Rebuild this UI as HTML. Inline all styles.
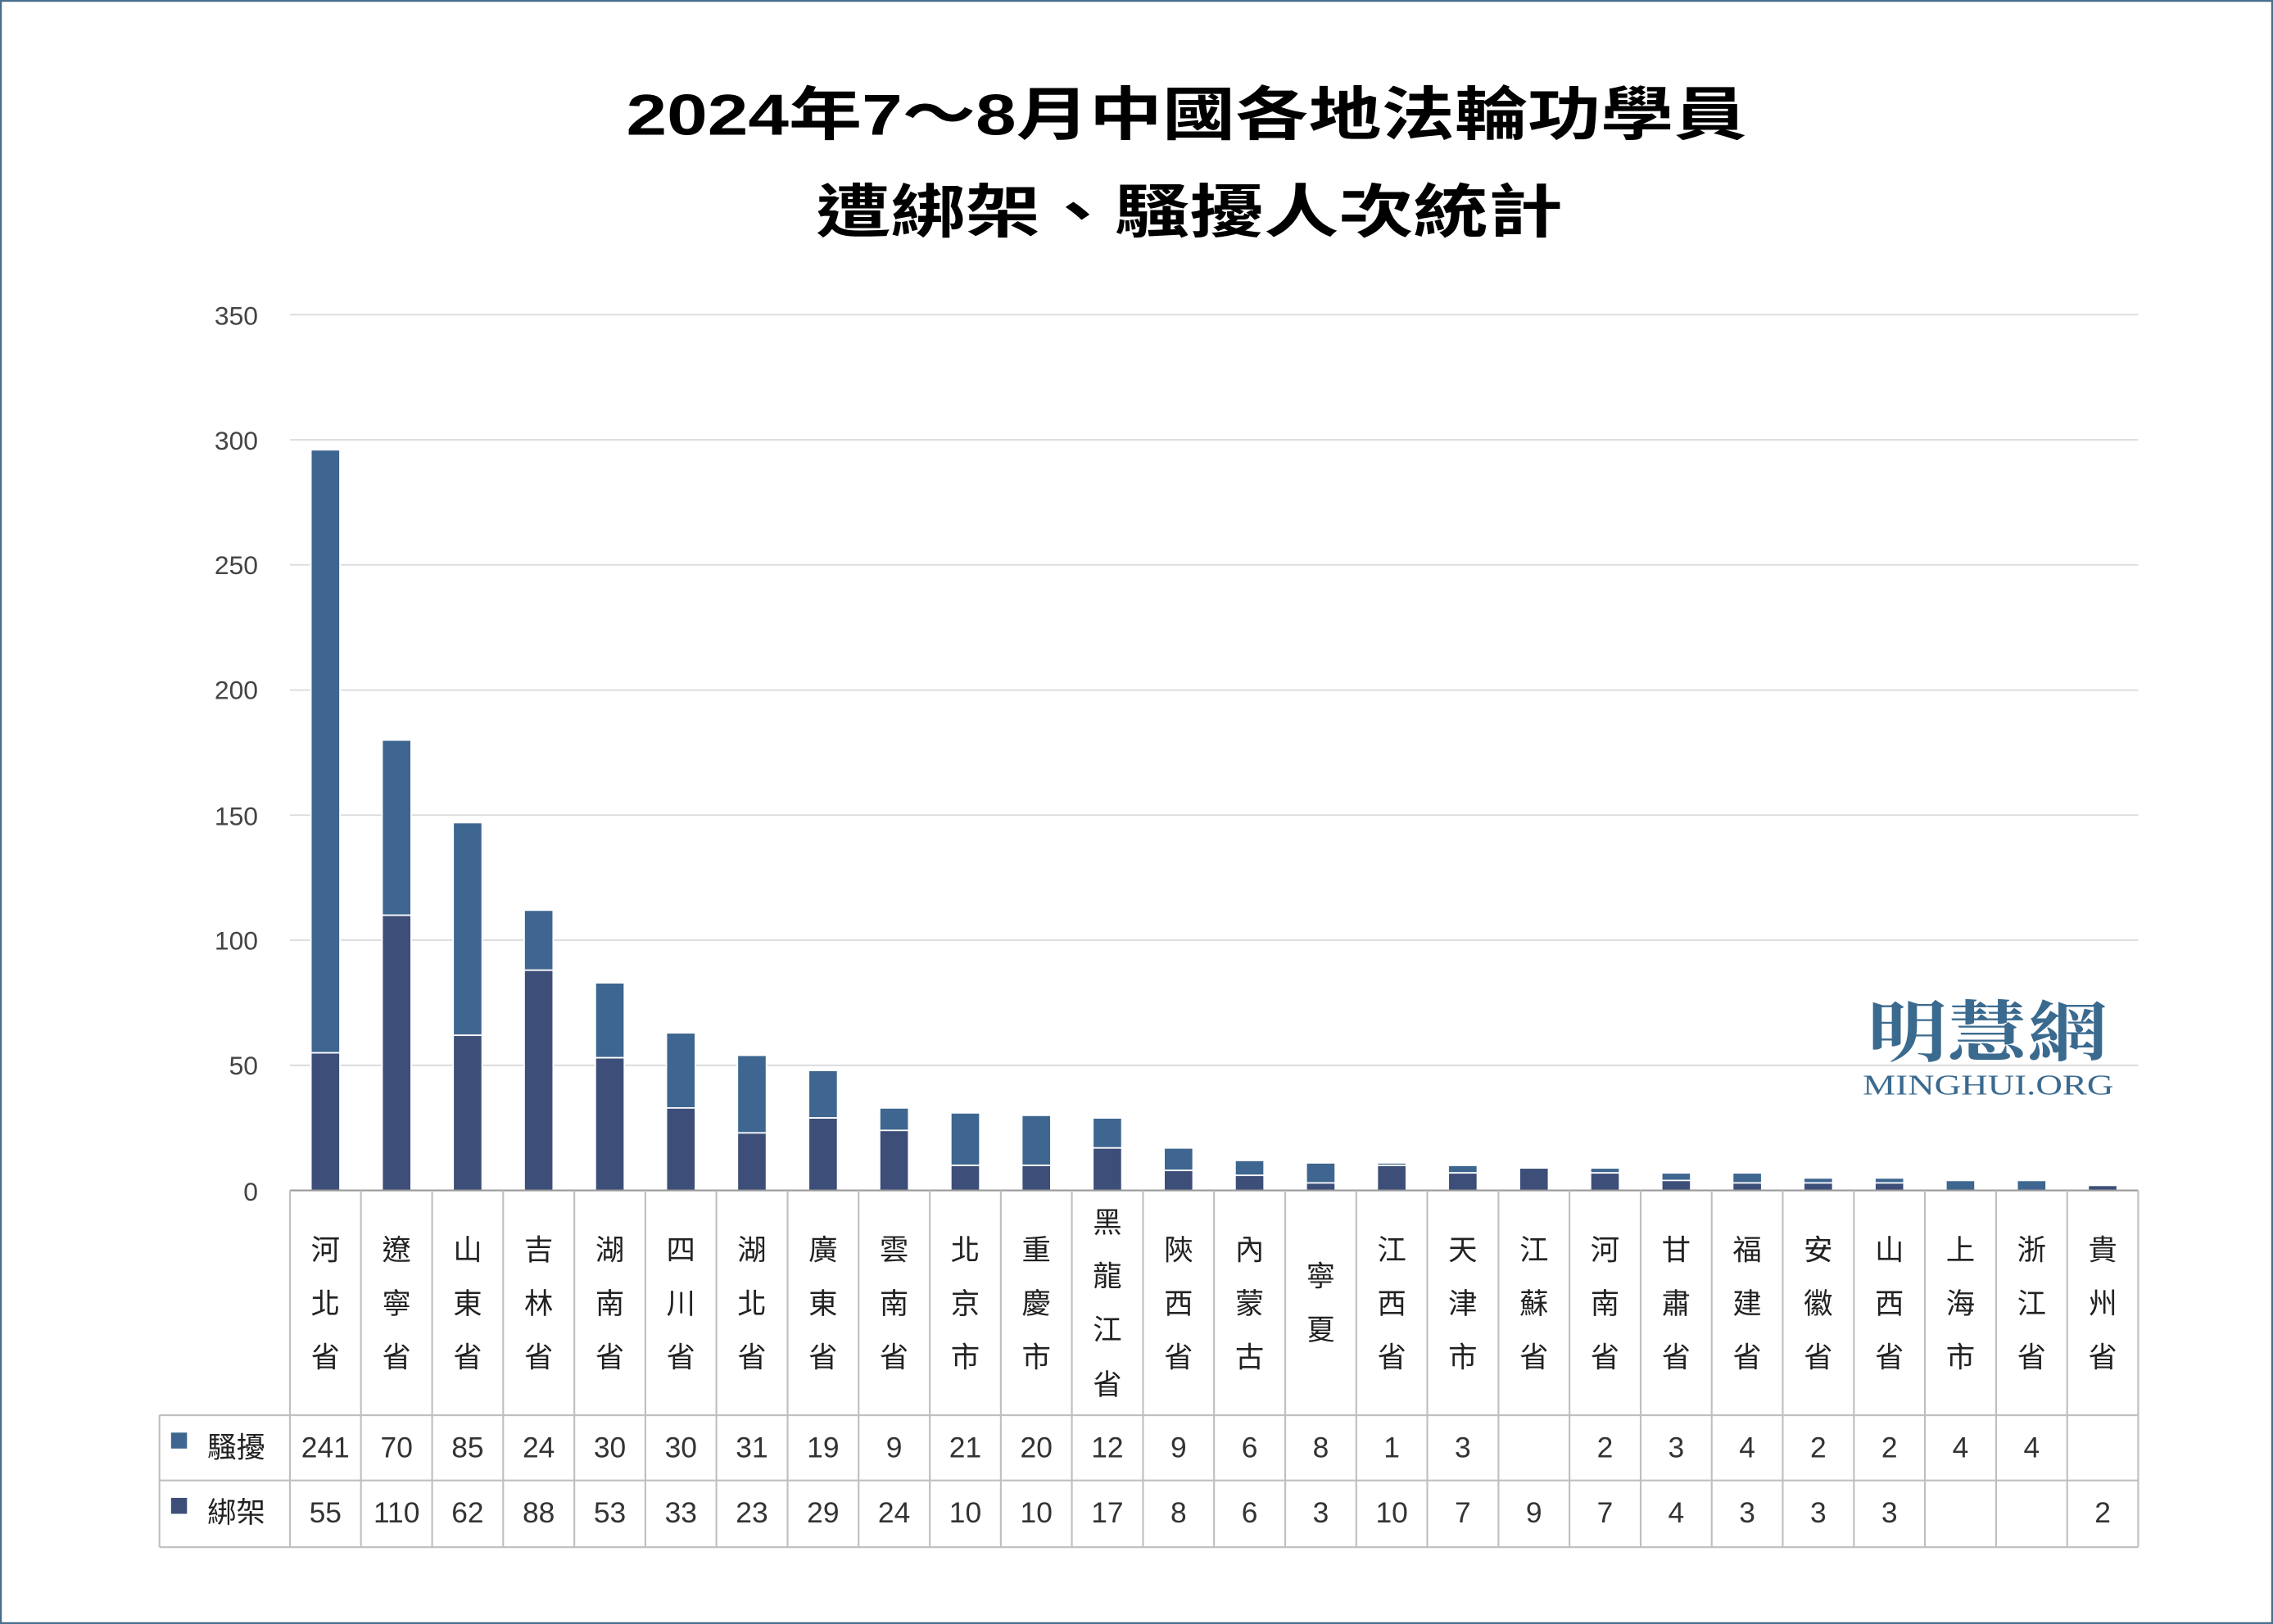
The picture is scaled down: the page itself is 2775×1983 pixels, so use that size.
<!DOCTYPE html>
<html><head><meta charset="utf-8"><style>
html,body{margin:0;padding:0;background:#fff;}
svg{display:block;}
.yl{font-family:"Liberation Sans","DejaVu Sans",sans-serif;font-size:18px;fill:#444;text-anchor:end;}
.cl{font-family:"Liberation Sans","Noto Sans CJK TC",sans-serif;font-size:20px;fill:#222;text-anchor:middle;}
.nm{font-family:"Liberation Sans","DejaVu Sans",sans-serif;font-size:20px;fill:#333;text-anchor:middle;}
.tt{font-family:"Liberation Sans","Noto Sans CJK TC",sans-serif;font-size:40px;font-weight:bold;fill:#000;}
.h{fill:#3e6690}.a{fill:#3d4f78}
</style></head><body>
<svg width="2775" height="1983" viewBox="0 0 1568 1120" preserveAspectRatio="none" xmlns="http://www.w3.org/2000/svg">
<rect x="0.5" y="0.5" width="1567" height="1119" fill="#fff" stroke="#4a6f8c" stroke-width="1.5"/>
<text class="tt" x="432" y="93" textLength="773" lengthAdjust="spacingAndGlyphs">2024年7～8月中國各地法輪功學員</text>
<text class="tt" x="563" y="160" textLength="515" lengthAdjust="spacingAndGlyphs">遭綁架、騷擾人次統計</text>
<g stroke="#d9d9d9" stroke-width="1">
<line x1="200" x2="1475" y1="217" y2="217"/><line x1="200" x2="1475" y1="303.3" y2="303.3"/>
<line x1="200" x2="1475" y1="389.6" y2="389.6"/><line x1="200" x2="1475" y1="475.9" y2="475.9"/>
<line x1="200" x2="1475" y1="562.1" y2="562.1"/><line x1="200" x2="1475" y1="648.4" y2="648.4"/>
<line x1="200" x2="1475" y1="734.7" y2="734.7"/>
</g>
<g class="yl">
<text class="yl" x="178" y="224">350</text><text class="yl" x="178" y="310">300</text>
<text class="yl" x="178" y="396">250</text><text class="yl" x="178" y="482">200</text>
<text class="yl" x="178" y="569">150</text><text class="yl" x="178" y="655">100</text>
<text class="yl" x="178" y="741">50</text><text class="yl" x="178" y="828">0</text>
</g>
<text x="1288" y="728" textLength="166" lengthAdjust="spacingAndGlyphs" style="font-family:'Noto Serif CJK SC',serif;font-size:46px;font-weight:bold;fill:#3b6a8f">明慧網</text>
<text x="1285" y="755" textLength="173" lengthAdjust="spacingAndGlyphs" style="font-family:'Liberation Serif',serif;font-size:20px;fill:#3b6a8f">MINGHUI.ORG</text>
<g stroke="#fff" stroke-width="1">
<rect class="h" x="214.5" y="310.2" width="20" height="415.9"/><rect class="a" x="214.5" y="726.1" width="20" height="94.9"/>
<rect class="h" x="263.6" y="510.4" width="20" height="120.8"/><rect class="a" x="263.6" y="631.2" width="20" height="189.8"/>
<rect class="h" x="312.6" y="567.3" width="20" height="146.7"/><rect class="a" x="312.6" y="714" width="20" height="107"/>
<rect class="h" x="361.6" y="627.7" width="20" height="41.4"/><rect class="a" x="361.6" y="669.1" width="20" height="151.9"/>
<rect class="h" x="410.7" y="677.8" width="20" height="51.7"/><rect class="a" x="410.7" y="729.5" width="20" height="91.5"/>
<rect class="h" x="459.7" y="712.3" width="20" height="51.8"/><rect class="a" x="459.7" y="764.1" width="20" height="56.9"/>
<rect class="h" x="508.7" y="727.8" width="20" height="53.5"/><rect class="a" x="508.7" y="781.3" width="20" height="39.7"/>
<rect class="h" x="557.8" y="738.2" width="20" height="32.8"/><rect class="a" x="557.8" y="771" width="20" height="50"/>
<rect class="h" x="606.8" y="764.1" width="20" height="15.5"/><rect class="a" x="606.8" y="779.6" width="20" height="41.4"/>
<rect class="h" x="655.9" y="767.5" width="20" height="36.2"/><rect class="a" x="655.9" y="803.7" width="20" height="17.3"/>
<rect class="h" x="704.9" y="769.2" width="20" height="34.5"/><rect class="a" x="704.9" y="803.7" width="20" height="17.3"/>
<rect class="h" x="753.9" y="771" width="20" height="20.7"/><rect class="a" x="753.9" y="791.7" width="20" height="29.3"/>
<rect class="h" x="803" y="791.7" width="20" height="15.5"/><rect class="a" x="803" y="807.2" width="20" height="13.8"/>
<rect class="h" x="852" y="800.3" width="20" height="10.3"/><rect class="a" x="852" y="810.6" width="20" height="10.4"/>
<rect class="h" x="901.1" y="802" width="20" height="13.8"/><rect class="a" x="901.1" y="815.8" width="20" height="5.2"/>
<rect class="h" x="950.1" y="802" width="20" height="1.7"/><rect class="a" x="950.1" y="803.7" width="20" height="17.3"/>
<rect class="h" x="999.1" y="803.7" width="20" height="5.2"/><rect class="a" x="999.1" y="808.9" width="20" height="12.1"/>
<rect class="a" x="1048.2" y="805.5" width="20" height="15.5"/>
<rect class="h" x="1097.2" y="805.5" width="20" height="3.4"/><rect class="a" x="1097.2" y="808.9" width="20" height="12.1"/>
<rect class="h" x="1146.3" y="808.9" width="20" height="5.2"/><rect class="a" x="1146.3" y="814.1" width="20" height="6.9"/>
<rect class="h" x="1195.3" y="808.9" width="20" height="6.9"/><rect class="a" x="1195.3" y="815.8" width="20" height="5.2"/>
<rect class="h" x="1244.3" y="812.4" width="20" height="3.4"/><rect class="a" x="1244.3" y="815.8" width="20" height="5.2"/>
<rect class="h" x="1293.4" y="812.4" width="20" height="3.4"/><rect class="a" x="1293.4" y="815.8" width="20" height="5.2"/>
<rect class="h" x="1342.4" y="814.1" width="20" height="6.9"/>
<rect class="h" x="1391.5" y="814.1" width="20" height="6.9"/>
<rect class="a" x="1440.5" y="817.5" width="20" height="3.5"/>
</g>
<g stroke="#bfbfbf" stroke-width="1.2">
<line x1="200" x2="1475" y1="821" y2="821" stroke="#999"/>
<line x1="110" x2="1475" y1="976" y2="976"/>
<line x1="110" x2="1475" y1="1021" y2="1021"/>
<line x1="110" x2="1475" y1="1067" y2="1067"/>
<line x1="110" x2="110" y1="976" y2="1067"/>
<line x1="200" x2="200" y1="821" y2="1067"/><line x1="249" x2="249" y1="821" y2="1067"/>
<line x1="298.1" x2="298.1" y1="821" y2="1067"/><line x1="347.1" x2="347.1" y1="821" y2="1067"/>
<line x1="396.2" x2="396.2" y1="821" y2="1067"/><line x1="445.2" x2="445.2" y1="821" y2="1067"/>
<line x1="494.2" x2="494.2" y1="821" y2="1067"/><line x1="543.3" x2="543.3" y1="821" y2="1067"/>
<line x1="592.3" x2="592.3" y1="821" y2="1067"/><line x1="641.4" x2="641.4" y1="821" y2="1067"/>
<line x1="690.4" x2="690.4" y1="821" y2="1067"/><line x1="739.4" x2="739.4" y1="821" y2="1067"/>
<line x1="788.5" x2="788.5" y1="821" y2="1067"/><line x1="837.5" x2="837.5" y1="821" y2="1067"/>
<line x1="886.6" x2="886.6" y1="821" y2="1067"/><line x1="935.6" x2="935.6" y1="821" y2="1067"/>
<line x1="984.6" x2="984.6" y1="821" y2="1067"/><line x1="1033.7" x2="1033.7" y1="821" y2="1067"/>
<line x1="1082.7" x2="1082.7" y1="821" y2="1067"/><line x1="1131.8" x2="1131.8" y1="821" y2="1067"/>
<line x1="1180.8" x2="1180.8" y1="821" y2="1067"/><line x1="1229.8" x2="1229.8" y1="821" y2="1067"/>
<line x1="1278.9" x2="1278.9" y1="821" y2="1067"/><line x1="1327.9" x2="1327.9" y1="821" y2="1067"/>
<line x1="1377" x2="1377" y1="821" y2="1067"/><line x1="1426" x2="1426" y1="821" y2="1067"/>
<line x1="1475" x2="1475" y1="821" y2="1067"/>
</g>
<g class="cl">
<text class="cl" x="224.5" y="869">河</text><text class="cl" x="224.5" y="906">北</text><text class="cl" x="224.5" y="943">省</text>
<text class="cl" x="273.6" y="869">遼</text><text class="cl" x="273.6" y="906">寧</text><text class="cl" x="273.6" y="943">省</text>
<text class="cl" x="322.6" y="869">山</text><text class="cl" x="322.6" y="906">東</text><text class="cl" x="322.6" y="943">省</text>
<text class="cl" x="371.6" y="869">吉</text><text class="cl" x="371.6" y="906">林</text><text class="cl" x="371.6" y="943">省</text>
<text class="cl" x="420.7" y="869">湖</text><text class="cl" x="420.7" y="906">南</text><text class="cl" x="420.7" y="943">省</text>
<text class="cl" x="469.7" y="869">四</text><text class="cl" x="469.7" y="906">川</text><text class="cl" x="469.7" y="943">省</text>
<text class="cl" x="518.7" y="869">湖</text><text class="cl" x="518.7" y="906">北</text><text class="cl" x="518.7" y="943">省</text>
<text class="cl" x="567.8" y="869">廣</text><text class="cl" x="567.8" y="906">東</text><text class="cl" x="567.8" y="943">省</text>
<text class="cl" x="616.8" y="869">雲</text><text class="cl" x="616.8" y="906">南</text><text class="cl" x="616.8" y="943">省</text>
<text class="cl" x="665.9" y="869">北</text><text class="cl" x="665.9" y="906">京</text><text class="cl" x="665.9" y="943">市</text>
<text class="cl" x="714.9" y="869">重</text><text class="cl" x="714.9" y="906">慶</text><text class="cl" x="714.9" y="943">市</text>
<text class="cl" x="763.9" y="850">黑</text><text class="cl" x="763.9" y="887">龍</text><text class="cl" x="763.9" y="924">江</text><text class="cl" x="763.9" y="962">省</text>
<text class="cl" x="813" y="869">陝</text><text class="cl" x="813" y="906">西</text><text class="cl" x="813" y="943">省</text>
<text class="cl" x="862" y="869">內</text><text class="cl" x="862" y="906">蒙</text><text class="cl" x="862" y="943">古</text>
<text class="cl" x="911.1" y="887">寧</text><text class="cl" x="911.1" y="924">夏</text>
<text class="cl" x="960.1" y="869">江</text><text class="cl" x="960.1" y="906">西</text><text class="cl" x="960.1" y="943">省</text>
<text class="cl" x="1009.1" y="869">天</text><text class="cl" x="1009.1" y="906">津</text><text class="cl" x="1009.1" y="943">市</text>
<text class="cl" x="1058.2" y="869">江</text><text class="cl" x="1058.2" y="906">蘇</text><text class="cl" x="1058.2" y="943">省</text>
<text class="cl" x="1107.2" y="869">河</text><text class="cl" x="1107.2" y="906">南</text><text class="cl" x="1107.2" y="943">省</text>
<text class="cl" x="1156.3" y="869">甘</text><text class="cl" x="1156.3" y="906">肅</text><text class="cl" x="1156.3" y="943">省</text>
<text class="cl" x="1205.3" y="869">福</text><text class="cl" x="1205.3" y="906">建</text><text class="cl" x="1205.3" y="943">省</text>
<text class="cl" x="1254.3" y="869">安</text><text class="cl" x="1254.3" y="906">徽</text><text class="cl" x="1254.3" y="943">省</text>
<text class="cl" x="1303.4" y="869">山</text><text class="cl" x="1303.4" y="906">西</text><text class="cl" x="1303.4" y="943">省</text>
<text class="cl" x="1352.4" y="869">上</text><text class="cl" x="1352.4" y="906">海</text><text class="cl" x="1352.4" y="943">市</text>
<text class="cl" x="1401.5" y="869">浙</text><text class="cl" x="1401.5" y="906">江</text><text class="cl" x="1401.5" y="943">省</text>
<text class="cl" x="1450.5" y="869">貴</text><text class="cl" x="1450.5" y="906">州</text><text class="cl" x="1450.5" y="943">省</text>
</g>
<rect class="h" x="118" y="988" width="11" height="11"/>
<text class="cl" x="163" y="1005">騷擾</text>
<rect class="a" x="118" y="1033" width="11" height="11"/>
<text class="cl" x="163" y="1050">綁架</text>
<g>
<text class="nm" x="224.5" y="1005">241</text><text class="nm" x="273.6" y="1005">70</text><text class="nm" x="322.6" y="1005">85</text>
<text class="nm" x="371.6" y="1005">24</text><text class="nm" x="420.7" y="1005">30</text><text class="nm" x="469.7" y="1005">30</text>
<text class="nm" x="518.7" y="1005">31</text><text class="nm" x="567.8" y="1005">19</text><text class="nm" x="616.8" y="1005">9</text>
<text class="nm" x="665.9" y="1005">21</text><text class="nm" x="714.9" y="1005">20</text><text class="nm" x="763.9" y="1005">12</text>
<text class="nm" x="813" y="1005">9</text><text class="nm" x="862" y="1005">6</text><text class="nm" x="911.1" y="1005">8</text>
<text class="nm" x="960.1" y="1005">1</text><text class="nm" x="1009.1" y="1005">3</text>
<text class="nm" x="1107.2" y="1005">2</text><text class="nm" x="1156.3" y="1005">3</text><text class="nm" x="1205.3" y="1005">4</text>
<text class="nm" x="1254.3" y="1005">2</text><text class="nm" x="1303.4" y="1005">2</text><text class="nm" x="1352.4" y="1005">4</text>
<text class="nm" x="1401.5" y="1005">4</text>
<text class="nm" x="224.5" y="1050">55</text><text class="nm" x="273.6" y="1050">110</text><text class="nm" x="322.6" y="1050">62</text>
<text class="nm" x="371.6" y="1050">88</text><text class="nm" x="420.7" y="1050">53</text><text class="nm" x="469.7" y="1050">33</text>
<text class="nm" x="518.7" y="1050">23</text><text class="nm" x="567.8" y="1050">29</text><text class="nm" x="616.8" y="1050">24</text>
<text class="nm" x="665.9" y="1050">10</text><text class="nm" x="714.9" y="1050">10</text><text class="nm" x="763.9" y="1050">17</text>
<text class="nm" x="813" y="1050">8</text><text class="nm" x="862" y="1050">6</text><text class="nm" x="911.1" y="1050">3</text>
<text class="nm" x="960.1" y="1050">10</text><text class="nm" x="1009.1" y="1050">7</text><text class="nm" x="1058.2" y="1050">9</text>
<text class="nm" x="1107.2" y="1050">7</text><text class="nm" x="1156.3" y="1050">4</text><text class="nm" x="1205.3" y="1050">3</text>
<text class="nm" x="1254.3" y="1050">3</text><text class="nm" x="1303.4" y="1050">3</text>
<text class="nm" x="1450.5" y="1050">2</text>
</g>
</svg>
</body></html>
